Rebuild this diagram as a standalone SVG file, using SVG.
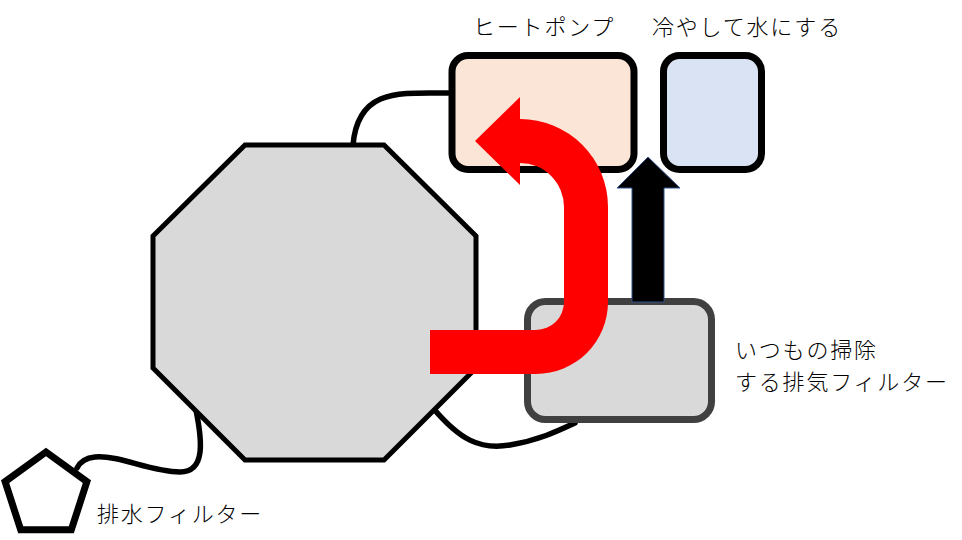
<svg xmlns="http://www.w3.org/2000/svg" width="962" height="540" viewBox="0 0 962 540">
<style>
.t{font-family:"Noto Sans CJK JP","Noto Sans",sans-serif;font-size:22px;font-weight:300;fill:#000;letter-spacing:1.8px}
.wire{fill:none;stroke:#000;stroke-width:5.5;stroke-linecap:round}
</style>
<rect width="962" height="540" fill="#fff"/>
<g id="connectors">
<path class="wire" d="M448,93 C400,93 358,88 353,145"/>
<path class="wire" d="M433,408 C460,440 480,450 510,445 C540,440 560,430 575,423"/>
<path class="wire" d="M196,410 C202,440 206,472 180,472 C150,472 120,455 95,457 C85,458 80,462 77,468"/>
</g>
<g id="octagon">
<polygon points="245,145 384,145 476,236 476,368 384,460 245,460 153,368 153,236" fill="#d9d9d9" stroke="#000" stroke-width="5"/>
</g>
<g id="heatpump">
<rect x="452" y="55.5" width="182" height="114" rx="16" fill="#fbe5d6" stroke="#000" stroke-width="7"/>
<text class="t" x="473" y="35">ヒートポンプ</text>
</g>
<g id="cooler">
<rect x="663.5" y="55.5" width="98" height="114" rx="16" fill="#dae3f3" stroke="#000" stroke-width="7"/>
<text class="t" x="652" y="35">冷やして水にする</text>
</g>
<g id="exhaust-filter">
<rect x="527.5" y="301.5" width="184" height="118" rx="18" fill="#d9d9d9" stroke="#404040" stroke-width="7"/>
<text class="t" x="735" y="358">いつもの掃除</text>
<text class="t" x="735" y="390">する排気フィルター</text>
</g>
<g id="drain-filter">
<polygon points="46,452 86.9,481.7 71.3,529.8 20.7,529.8 5.1,481.7" fill="#fff" stroke="#000" stroke-width="7" stroke-linejoin="miter"/>
<text class="t" x="97" y="522">排水フィルター</text>
</g>
<g id="red-arrow">
<path d="M430,330 H536 A28,28 0 0 0 564,302 V207 A44,44 0 0 0 520,163 V185 L475,141 L520,97 V119 A88,88 0 0 1 608,207 V302 A72,72 0 0 1 536,374 H430 Z" fill="#ff0000"/>
</g>
<g id="black-arrow">
<path d="M632,302 V188 H617 L648,157 L680,188 H664 V302 Z" fill="#000" stroke="#2f528f" stroke-width="1"/>
</g>
</svg>
